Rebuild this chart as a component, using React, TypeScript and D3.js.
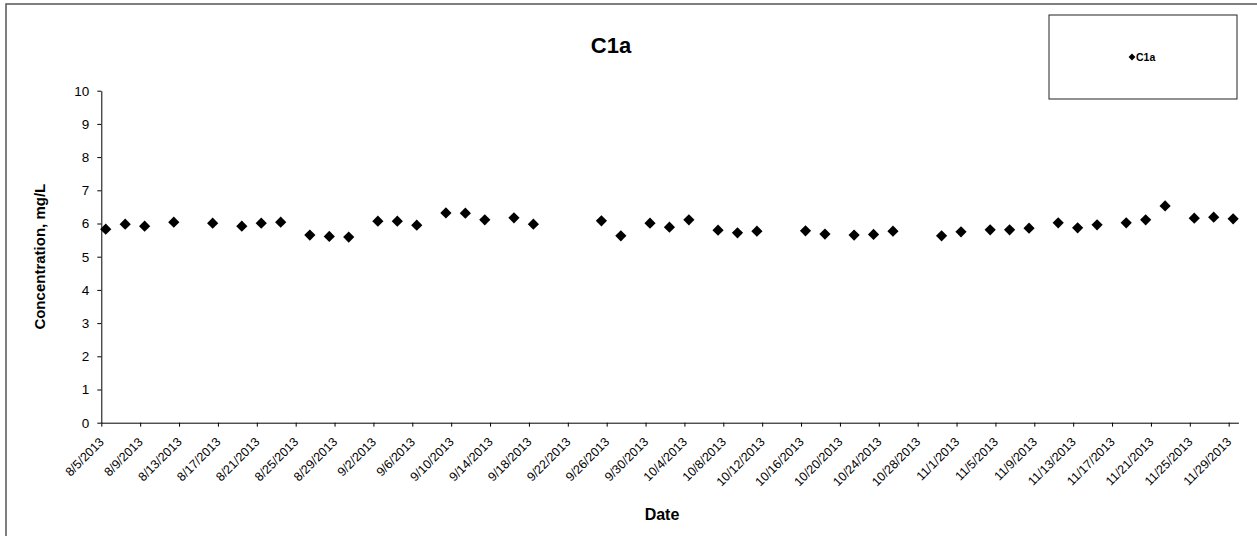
import React, { useEffect, useRef } from "react";
import * as d3 from "d3";

const sampleDates: string[] = [
  "2013-08-05", "2013-08-07", "2013-08-09", "2013-08-12", "2013-08-16", "2013-08-19",
  "2013-08-21", "2013-08-23", "2013-08-26", "2013-08-28", "2013-08-30", "2013-09-02",
  "2013-09-04", "2013-09-06", "2013-09-09", "2013-09-11", "2013-09-13", "2013-09-16",
  "2013-09-18", "2013-09-25", "2013-09-27", "2013-09-30", "2013-10-02", "2013-10-04",
  "2013-10-07", "2013-10-09", "2013-10-11", "2013-10-16", "2013-10-18", "2013-10-21",
  "2013-10-23", "2013-10-25", "2013-10-30", "2013-11-01", "2013-11-04", "2013-11-06",
  "2013-11-08", "2013-11-11", "2013-11-13", "2013-11-15", "2013-11-18", "2013-11-20",
  "2013-11-22", "2013-11-25", "2013-11-27", "2013-11-29",
];
const sampleTime = "T11:00";
const c1aValues: number[] = [
  5.83, 5.98, 5.92, 6.04, 6.01, 5.92, 6.01, 6.04, 5.65, 5.61, 5.59, 6.07,
  6.07, 5.95, 6.32, 6.31, 6.11, 6.17, 5.98, 6.08, 5.63, 6.01, 5.89, 6.11,
  5.80, 5.72, 5.77, 5.78, 5.68, 5.65, 5.67, 5.77, 5.63, 5.75, 5.81, 5.81,
  5.86, 6.02, 5.87, 5.96, 6.02, 6.11, 6.53, 6.16, 6.19, 6.14,
];
const xDomain: string[] = ["2013-08-05", "2013-11-30"];
const yTicks: number[] = [0, 1, 2, 3, 4, 5, 6, 7, 8, 9, 10];
const xTickStepDays = 4;
const xTickCount = 30;
const chartTitle = "C1a";
const seriesName = "C1a";
const xAxisTitle = "Date";
const yAxisTitle = "Concentration, mg/L";

const FONT = "'Liberation Sans', Arial, sans-serif";

export default function App() {
  const ref = useRef<SVGSVGElement>(null);

  useEffect(() => {
    const svg = d3.select(ref.current);
    svg.selectAll("*").remove();
    const W = 1257, H = 536;
    const left = 101.3, right = 1238.4, top = 90.7, bottom = 422.7;
    const parse = d3.timeParse("%Y-%m-%d");
    const parseT = d3.timeParse("%Y-%m-%dT%H:%M");
    const x = d3.scaleTime()
      .domain([parse(xDomain[0])!, parse(xDomain[1])!])
      .range([left, right]);
    const y = d3.scaleLinear().domain([0, 10]).range([bottom, top]);

    svg.append("rect").attr("width", W).attr("height", H).attr("fill", "#fff");
    // outer chart border
    svg.append("rect").attr("x", 6).attr("y", 4).attr("width", W + 10).attr("height", H + 10)
      .attr("fill", "none").attr("stroke", "#555").attr("stroke-width", 1.5);

    // title
    svg.append("text").attr("x", 611).attr("y", 53).attr("text-anchor", "middle")
      .attr("font-family", FONT).attr("font-weight", "bold").attr("font-size", 22)
      .text(chartTitle);

    // legend
    const lg = svg.append("g");
    lg.append("rect").attr("x", 1049).attr("y", 15).attr("width", 188).attr("height", 84)
      .attr("fill", "#fff").attr("stroke", "#222").attr("stroke-width", 1);
    lg.append("path").attr("d", d3.symbol(d3.symbolDiamond2, 30)())
      .attr("transform", "translate(1132,57)").attr("fill", "#000");
    lg.append("text").attr("x", 1136).attr("y", 61).attr("font-family", FONT)
      .attr("font-size", 10.5).attr("font-weight", "bold").text(seriesName);

    // y axis
    const yAxis = d3.axisLeft(y).tickValues(yTicks).tickSize(4).tickSizeOuter(0).tickPadding(8);
    const gy = svg.append("g").attr("transform", `translate(${left},0)`).call(yAxis);
    gy.selectAll("text").attr("font-family", FONT).attr("font-size", 13.5).attr("fill", "#000");
    gy.selectAll("line").attr("stroke", "#000");
    gy.select(".domain").attr("stroke", "#000");

    // x axis
    const start = parse(xDomain[0])!;
    const tickDates = d3.range(0, xTickCount).map((i) => d3.timeDay.offset(start, i * xTickStepDays));
    const fmt = (d: Date) => `${d.getMonth() + 1}/${d.getDate()}/${d.getFullYear()}`;
    const xAxis = d3.axisBottom(x).tickValues(tickDates).tickSize(4).tickSizeOuter(0)
      .tickFormat((d) => fmt(d as Date));
    const gx = svg.append("g").attr("transform", `translate(0,${bottom})`).call(xAxis);
    gx.select(".domain").attr("stroke", "#000");
    gx.selectAll("line").attr("stroke", "#000");
    gx.selectAll("text")
      .attr("font-family", FONT).attr("font-size", 12.5).attr("fill", "#000")
      .attr("text-anchor", "end")
      .attr("dy", null).attr("y", 0)
      .attr("transform", "translate(3,20) rotate(-45)");

    // axis titles
    svg.append("text").attr("x", 662).attr("y", 520).attr("text-anchor", "middle")
      .attr("font-family", FONT).attr("font-weight", "bold").attr("font-size", 16)
      .text(xAxisTitle);
    svg.append("text").attr("transform", `translate(45,${(top + bottom) / 2}) rotate(-90)`)
      .attr("text-anchor", "middle").attr("font-family", FONT).attr("font-weight", "bold")
      .attr("font-size", 15).text(yAxisTitle);

    // points
    const data = sampleDates.map((d, i) => ({ date: parseT(d + sampleTime)!, v: c1aValues[i] }));
    svg.append("g").selectAll("path").data(data).join("path")
      .attr("d", d3.symbol(d3.symbolDiamond2, 80)())
      .attr("transform", (d) => `translate(${x(d.date)},${y(d.v)})`)
      .attr("fill", "#000");
  }, []);

  return (
    <svg ref={ref} width={1257} height={536}
      style={{ position: "absolute", left: 0, top: 0, display: "block" }} />
  );
}
